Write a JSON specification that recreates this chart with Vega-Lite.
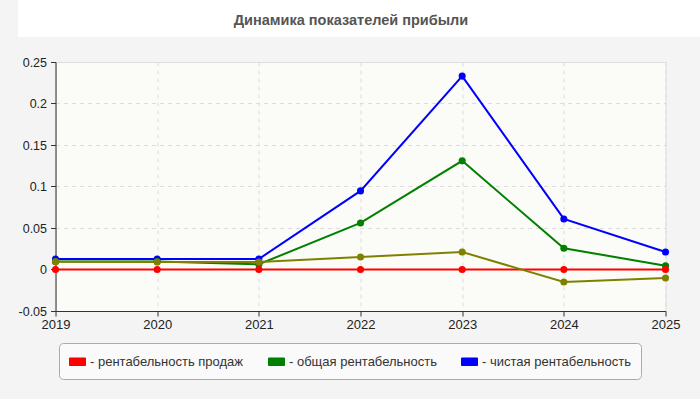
{
  "$schema": "https://vega.github.io/schema/vega-lite/v6.json",
  "background": "#f4f4f4",
  "padding": {"left": 0, "top": 0, "right": 0, "bottom": 19},
  "spacing": 18,
  "center": true,
  "config": {
    "font": "Liberation Sans",
    "view": {"stroke": null}
  },
  "datasets": {
    "profit": [
      {"year": "2019", "series": "чистая рентабельность", "value": 0.0127},
      {"year": "2020", "series": "чистая рентабельность", "value": 0.0127},
      {"year": "2021", "series": "чистая рентабельность", "value": 0.0127},
      {"year": "2022", "series": "чистая рентабельность", "value": 0.0947},
      {"year": "2023", "series": "чистая рентабельность", "value": 0.233},
      {"year": "2024", "series": "чистая рентабельность", "value": 0.0609},
      {"year": "2025", "series": "чистая рентабельность", "value": 0.0211},
      {"year": "2019", "series": "общая рентабельность", "value": 0.0095},
      {"year": "2020", "series": "общая рентабельность", "value": 0.0095},
      {"year": "2021", "series": "общая рентабельность", "value": 0.0063},
      {"year": "2022", "series": "общая рентабельность", "value": 0.0561},
      {"year": "2023", "series": "общая рентабельность", "value": 0.1309},
      {"year": "2024", "series": "общая рентабельность", "value": 0.0256},
      {"year": "2025", "series": "общая рентабельность", "value": 0.0046},
      {"year": "2019", "series": "рентабельность продаж", "value": 0},
      {"year": "2020", "series": "рентабельность продаж", "value": 0},
      {"year": "2021", "series": "рентабельность продаж", "value": 0},
      {"year": "2022", "series": "рентабельность продаж", "value": 0},
      {"year": "2023", "series": "рентабельность продаж", "value": 0},
      {"year": "2024", "series": "рентабельность продаж", "value": 0},
      {"year": "2025", "series": "рентабельность продаж", "value": 0},
      {"year": "2019", "series": "рентабельность активов", "value": 0.0092},
      {"year": "2020", "series": "рентабельность активов", "value": 0.009},
      {"year": "2021", "series": "рентабельность активов", "value": 0.009},
      {"year": "2022", "series": "рентабельность активов", "value": 0.0151},
      {"year": "2023", "series": "рентабельность активов", "value": 0.0211},
      {"year": "2024", "series": "рентабельность активов", "value": -0.0151},
      {"year": "2025", "series": "рентабельность активов", "value": -0.0103}
    ]
  },
  "vconcat": [
    {
      "width": 700,
      "height": 37,
      "view": {"fill": "#ffffff", "stroke": null},
      "data": {"values": [{"caption": "Динамика показателей прибыли"}]},
      "mark": {
        "type": "text",
        "font": "Liberation Sans",
        "fontSize": 14.5,
        "fontWeight": "bold",
        "color": "#555555",
        "baseline": "middle",
        "dx": -17,
        "dy": 2
      },
      "encoding": {"text": {"field": "caption"}}
    },
    {
      "width": 610,
      "height": 249,
      "view": {"fill": "#fbfbf7", "stroke": "#dddddd"},
      "data": {"name": "profit"},
      "encoding": {
        "x": {
          "field": "year",
          "type": "ordinal",
          "sort": null,
          "scale": {"type": "point", "padding": 0},
          "axis": {
            "title": null,
            "labelAngle": 0,
            "labelFontSize": 13,
            "labelColor": "#222222",
            "labelPadding": 2,
            "domainColor": "#333333",
            "tickColor": "#333333",
            "tickSize": 5,
            "grid": true,
            "gridColor": "#dddddd",
            "gridDash": [4, 4]
          }
        },
        "y": {
          "field": "value",
          "type": "quantitative",
          "scale": {"domain": [-0.05, 0.25], "nice": false, "zero": false},
          "axis": {
            "title": null,
            "values": [-0.05, 0, 0.05, 0.1, 0.15, 0.2, 0.25],
            "labelExpr": "datum.value + ''",
            "labelFontSize": 12.5,
            "labelColor": "#222222",
            "labelPadding": 4,
            "domainColor": "#333333",
            "tickColor": "#333333",
            "tickSize": 5,
            "minExtent": 55,
            "grid": true,
            "gridColor": "#dddddd",
            "gridDash": [4, 4]
          }
        },
        "color": {
          "field": "series",
          "type": "nominal",
          "scale": {
            "domain": ["рентабельность продаж", "общая рентабельность", "чистая рентабельность", "рентабельность активов"],
            "range": ["#ff0000", "#008000", "#0000ff", "#808000"]
          },
          "legend": {
            "title": null,
            "orient": "none",
            "legendX": 41,
            "legendY": 343,
            "direction": "horizontal",
            "values": ["рентабельность продаж", "общая рентабельность", "чистая рентабельность"],
            "symbolType": "M-1,-0.47H1V0.47H-1Z",
            "symbolSize": 256,
            "labelExpr": "'- ' + datum.label",
            "labelFont": "Liberation Sans",
            "labelFontSize": 13,
            "labelColor": "#333333",
            "labelOffset": 4,
            "labelLimit": 300,
            "columnPadding": 22,
            "padding": 10,
            "fillColor": "#fafafa",
            "strokeColor": "#aaaaaa",
            "cornerRadius": 4,
            "encode": {
              "symbols": {
                "update": {
                  "fill": {"scale": "color", "field": "value"},
                  "stroke": {"value": "#999999"},
                  "strokeWidth": {"value": 1},
                  "opacity": {"value": 1}
                }
              }
            }
          }
        }
      },
      "layer": [
        {"mark": {"type": "line", "strokeWidth": 2}},
        {"mark": {"type": "point", "filled": true, "opacity": 1, "size": 50}}
      ]
    }
  ]
}
